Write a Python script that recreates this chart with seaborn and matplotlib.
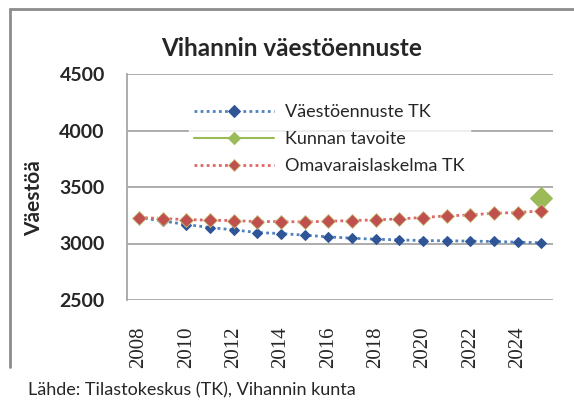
import numpy as np
import matplotlib
matplotlib.use('Agg')
import matplotlib.pyplot as plt
from matplotlib.lines import Line2D
import pandas as pd
import seaborn as sns

# data
years = list(range(2008, 2026))
ennuste_tk = [3230, 3200, 3168, 3141, 3121, 3097, 3088, 3074, 3059, 3047,
              3038, 3032, 3026, 3024, 3021, 3018, 3012, 3006]
omavarais_tk = [3230, 3221, 3212, 3206, 3203, 3194, 3194, 3191, 3197, 3203,
                3209, 3218, 3230, 3244, 3253, 3268, 3274, 3289]
tavoite_year = [2025]
tavoite = [3400]
xtick_years = list(range(2008, 2025, 2))
yticks = [2500, 3000, 3500, 4000, 4500]

sns.set_style('white')
plt.rcParams['font.family'] = ['Lato', 'DejaVu Sans']

df1 = pd.DataFrame({'year': years, 'val': ennuste_tk})
df2 = pd.DataFrame({'year': tavoite_year, 'val': tavoite})
df3 = pd.DataFrame({'year': years, 'val': omavarais_tk})

fig = plt.figure(figsize=(5.74, 4.01), dpi=100)
ax = fig.add_axes([127 / 574, 1 - 300 / 401, (553 - 127) / 574, (300 - 74) / 401])

blue = '#2F5597'
red = '#C0504D'
green = '#9BBB59'

sns.lineplot(data=df1, x='year', y='val', ax=ax, color='#4F81BD', linestyle=(0, (1, 1.2)),
             linewidth=2, marker='D', markersize=5, markerfacecolor=blue,
             markeredgecolor=blue, label='Väestöennuste TK')
sns.lineplot(data=df2, x='year', y='val', ax=ax, color=green, linewidth=1.5,
             marker='D', markersize=11, markerfacecolor=green,
             markeredgecolor=green, label='Kunnan tavoite')
sns.lineplot(data=df3, x='year', y='val', ax=ax, color='#E06666', linestyle=(0, (1, 1.2)),
             linewidth=2, marker='D', markersize=7.5, markerfacecolor=red,
             markeredgecolor='#C9C07A', markeredgewidth=0.6, label='Omavaraislaskelma TK')

ax.set_xlim(2007.5, 2025.5)
ax.set_ylim(2500, 4500)
ax.set_yticks(yticks)
ax.set_xticks(xtick_years)
ax.set_xticklabels([str(y) for y in xtick_years], rotation=90,
                   family='Liberation Serif', fontsize=15)
ax.set_yticklabels([str(y) for y in yticks], fontweight='bold', fontsize=14)
ax.tick_params(axis='both', length=0)
ax.tick_params(axis='y', pad=16)
ax.tick_params(axis='x', pad=19)
ax.yaxis.grid(True, color='#A6A6A6', linewidth=1.3)
ax.set_axisbelow(True)
for s in ['top', 'right', 'bottom']:
    ax.spines[s].set_visible(False)
ax.spines['left'].set_color('#A6A6A6')
ax.spines['left'].set_linewidth(1.3)

ax.set_xlabel('')
ax.set_ylabel('Väestöä', fontsize=15, fontweight='bold', labelpad=2)
ax.yaxis.set_label_coords(-0.195, 0.45)

leg = ax.legend(loc='upper left', bbox_to_anchor=(180 / 574, 1 - 90 / 401),
                bbox_transform=fig.transFigure, frameon=True, fontsize=13,
                handlelength=4.4, handletextpad=0.6, labelspacing=0.6,
                borderpad=0.3, fancybox=False)
leg.get_frame().set_facecolor('white')
leg.get_frame().set_edgecolor('white')
for h in leg.legend_handles:
    h.set_markersize(6)

fig.text(292 / 574, 1 - 48 / 401, 'Vihannin väestöennuste', ha='center', va='center',
         fontsize=17.5, fontweight='bold')
fig.text(28 / 574, 1 - 390 / 401, 'Lähde: Tilastokeskus (TK), Vihannin kunta',
         ha='left', va='center', fontsize=13)

# outer frame (top and left edges visible)
fig.add_artist(Line2D([10 / 574, 1.0], [1 - 9 / 401, 1 - 9 / 401], color='#8C8C8C', linewidth=2))
fig.add_artist(Line2D([10 / 574, 10 / 574], [1 - 9 / 401, 1 - 367 / 401], color='#8C8C8C', linewidth=2))

fig.savefig('out.png', dpi=100)
